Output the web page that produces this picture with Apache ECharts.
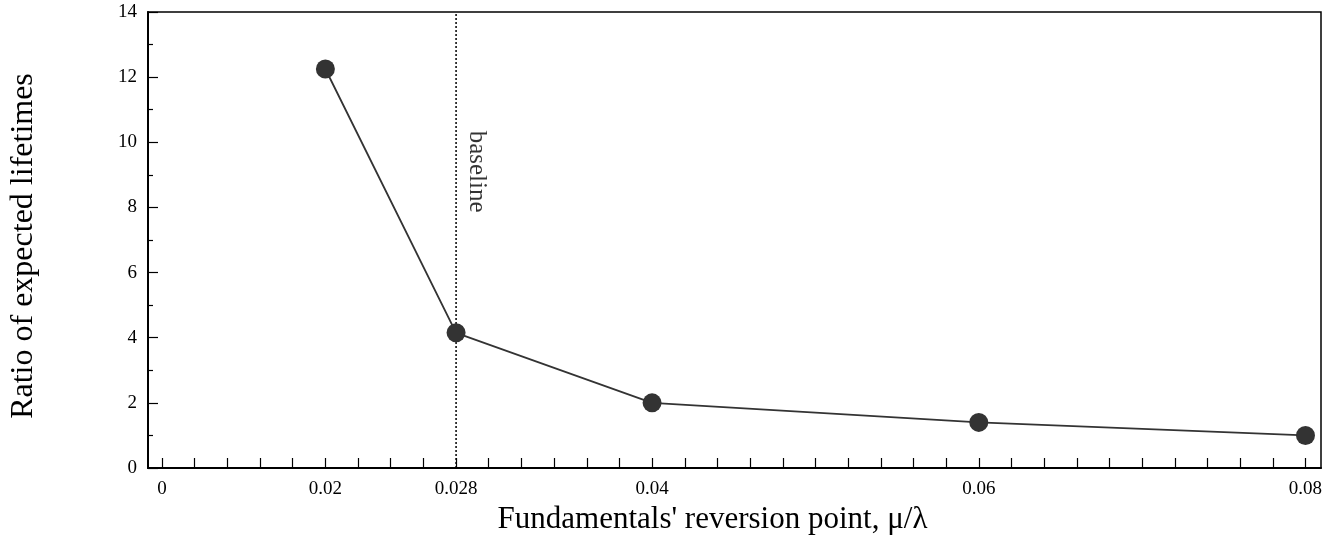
<!DOCTYPE html>
<html>
<head>
<meta charset="utf-8">
<script src="https://cdn.jsdelivr.net/npm/echarts@6/dist/echarts.min.js"></script>
<style>
html,body{margin:0;padding:0;background:#fff;}
#c{width:1330px;height:548px;}
</style>
</head>
<body>
<div id="c"></div>
<script>
// Data
var xValues = [0.02, 0.028, 0.04, 0.06, 0.08];
var ratioValues = [12.25, 4.15, 2.0, 1.4, 1.0];
var baselineX = 0.028;
var baselineLabelY = 9.1;
var baselineText = 'baseline';
// Tick labels (the reference prints "0" at the first tick)
var xLabelValues = [0.01, 0.02, 0.028, 0.04, 0.06, 0.08];
var xLabelTexts = ['0', '0.02', '0.028', '0.04', '0.06', '0.08'];
var xTickStart = 0.01, xTickEnd = 0.08, xTickStep = 0.002;
var xMin = 0.00914, xMax = 0.08095;
var yMin = 0, yMax = 14, yInterval = 2;
var xName = "Fundamentals' reversion point, \u03bc/\u03bb";
var yName = 'Ratio of expected lifetimes';

var xTickValues = [];
for (var i = 0; xTickStart + i * xTickStep <= xTickEnd + 1e-9; i++) {
  xTickValues.push(+(xTickStart + i * xTickStep).toFixed(4));
}
var lineData = xValues.map(function (x, i) { return [x, ratioValues[i]]; });
var baselineData = [[baselineX, yMin], [baselineX, yMax]];

var FONT = '"Liberation Serif", "Times New Roman", serif';
var chart = echarts.init(document.getElementById('c'), null, {renderer: 'canvas'});
chart.setOption({
  animation: false,
  backgroundColor: '#fff',
  grid: {left: 147, right: 9, top: 12, bottom: 80, show: true, borderColor: '#000', borderWidth: 1.5, backgroundColor: 'transparent'},
  xAxis: {
    type: 'value', min: xMin, max: xMax,
    name: xName, nameLocation: 'middle', nameGap: 35,
    nameTextStyle: {fontFamily: FONT, fontSize: 31, color: '#000', padding: [0, 44, 0, 0]},
    axisLine: {show: true, onZero: false, lineStyle: {color: '#000', width: 2}},
    axisTick: {show: true, inside: true, length: 10, customValues: xTickValues, lineStyle: {color: '#000', width: 1.2}},
    axisLabel: {
      show: true, customValues: xLabelValues, margin: 12,
      fontFamily: FONT, fontSize: 19, color: '#000',
      formatter: function (v) {
        for (var k = 0; k < xLabelValues.length; k++) {
          if (Math.abs(xLabelValues[k] - v) < 1e-7) return xLabelTexts[k];
        }
        return '';
      }
    },
    splitLine: {show: false}
  },
  yAxis: {
    type: 'value', min: yMin, max: yMax, interval: yInterval,
    name: yName, nameLocation: 'middle', nameGap: 108, nameRotate: 90,
    nameTextStyle: {fontFamily: FONT, fontSize: 32, color: '#000', padding: [0, 12, 0, 0]},
    axisLine: {show: true, onZero: false, lineStyle: {color: '#000', width: 2}},
    axisTick: {show: true, inside: true, length: 10, lineStyle: {color: '#000', width: 1.2}},
    minorTick: {show: true, splitNumber: 2, length: 5, lineStyle: {color: '#000', width: 1.2}},
    axisLabel: {margin: 11, fontFamily: FONT, fontSize: 19, color: '#000'},
    splitLine: {show: false},
    minorSplitLine: {show: false}
  },
  series: [
    {
      type: 'line',
      data: baselineData,
      symbol: 'none',
      silent: true,
      lineStyle: {color: '#000', width: 1.5, type: [2, 2]},
      z: 2
    },
    {
      type: 'line',
      data: lineData,
      symbol: 'circle',
      symbolSize: 19,
      itemStyle: {color: '#333'},
      lineStyle: {color: '#333', width: 1.8},
      z: 3
    },
    {
      type: 'scatter',
      data: [[baselineX, baselineLabelY]],
      symbolSize: 1,
      itemStyle: {color: 'rgba(0,0,0,0)'},
      silent: true,
      label: {
        show: true, position: 'right', distance: 20, rotate: -90,
        align: 'center', verticalAlign: 'middle',
        formatter: baselineText,
        fontFamily: FONT, fontSize: 25, color: '#000'
      }
    }
  ]
});
</script>
</body>
</html>
